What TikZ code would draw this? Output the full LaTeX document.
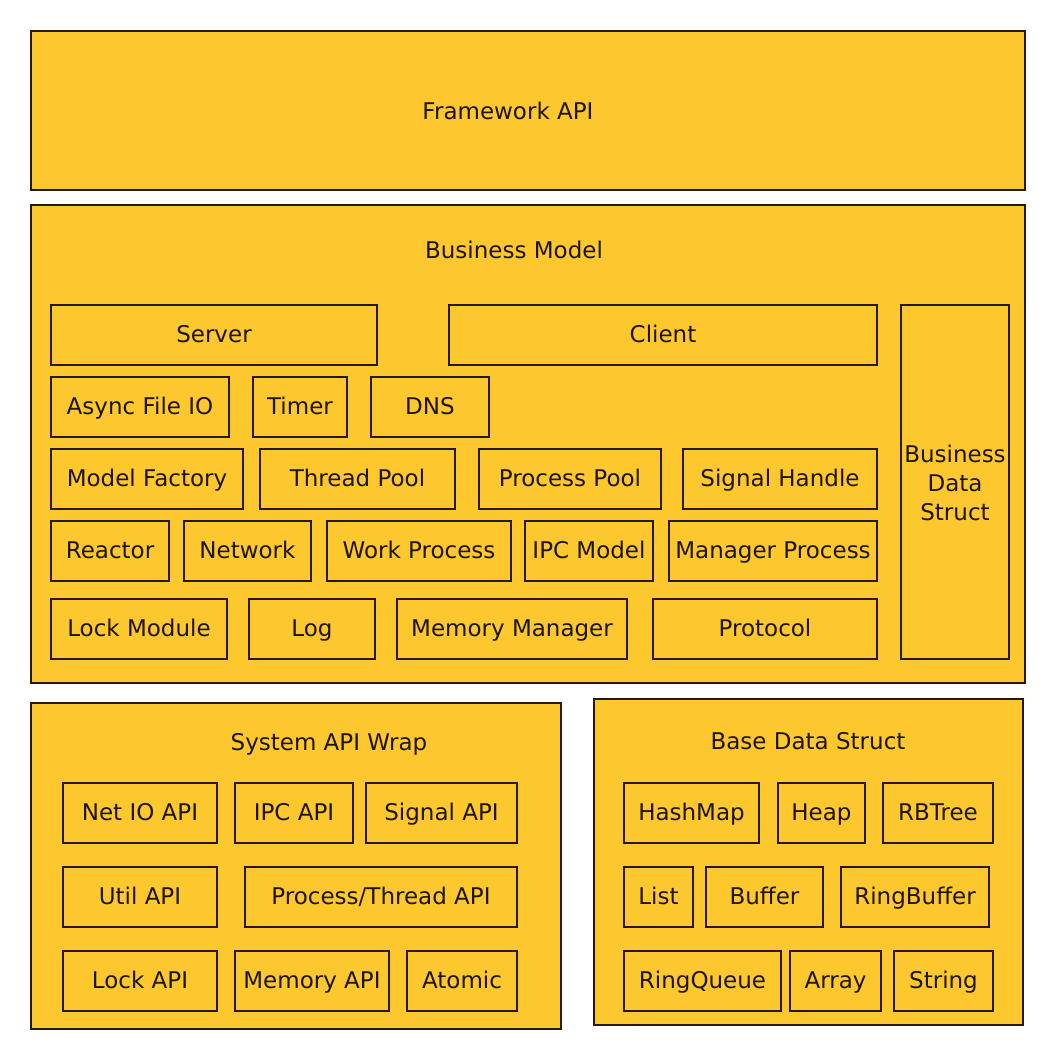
\documentclass[tikz,border=0pt]{standalone}
\usepackage{fontspec}
\setmainfont{DejaVu Sans}
\definecolor{boxfill}{RGB}{252,200,46}
\definecolor{boxline}{RGB}{40,24,12}
\definecolor{txt}{RGB}{30,20,8}
\tikzset{
  blk/.style={draw=boxline, fill=boxfill, line width=2.2pt, inner sep=0pt, outer sep=0pt,
    text=txt, font=\fontsize{23}{29}\selectfont, align=center,
    text height=18pt, text depth=3pt},
  lbl/.style={text=txt, font=\fontsize{23}{29}\selectfont, inner sep=0pt}
}
\newcommand{\bx}[6]{\node[blk, minimum width={#4-#2}, minimum height={#5-#3}, anchor=north west] (#1) at (#2,#3) {#6};}
\begin{document}
\begin{tikzpicture}[x=1pt,y=-1pt]
\useasboundingbox[fill=white] (0,0) rectangle (1056,1060);
% Framework API
\bx{fw}{31}{31}{1025}{190}{}
\node[lbl] (fwl) at (508,111) {Framework API};
% Business Model
\bx{bm}{31}{205}{1025}{683}{}
\node[lbl] (bml) at (514,250) {Business Model};
\bx{server}{51}{305}{377}{365}{Server}
\bx{client}{449}{305}{877}{365}{Client}
\bx{bds}{901}{305}{1009}{659}{}
\node[lbl, align=center] (bdsl) at (955,483) {Business\\Data\\Struct};
\bx{afio}{51}{377}{229}{437}{Async File IO}
\bx{timer}{253}{377}{347}{437}{Timer}
\bx{dns}{371}{377}{489}{437}{DNS}
\bx{mf}{51}{449}{243}{509}{Model Factory}
\bx{tp}{260}{449}{455}{509}{Thread Pool}
\bx{pp}{479}{449}{661}{509}{Process Pool}
\bx{sh}{683}{449}{877}{509}{Signal Handle}
\bx{reactor}{51}{521}{169}{581}{Reactor}
\bx{net}{184}{521}{311}{581}{Network}
\bx{wp}{327}{521}{511}{581}{Work Process}
\bx{ipcm}{525}{521}{653}{581}{IPC Model}
\bx{mp}{669}{521}{877}{581}{Manager Process}
\bx{lm}{51}{599}{227}{659}{Lock Module}
\bx{log}{249}{599}{375}{659}{Log}
\bx{mm}{397}{599}{627}{659}{Memory Manager}
\bx{proto}{653}{599}{877}{659}{Protocol}
% System API Wrap
\bx{saw}{31}{703}{561}{1029}{}
\node[lbl] (sawl) at (329,744) {System API Wrap};
\bx{netio}{63}{783}{217}{843}{Net IO API}
\bx{ipcapi}{235}{783}{353}{843}{IPC API}
\bx{sigapi}{366}{783}{517}{843}{Signal API}
\bx{util}{63}{867}{217}{927}{Util API}
\bx{ptapi}{245}{867}{517}{927}{Process/Thread API}
\bx{lockapi}{63}{951}{217}{1011}{Lock API}
\bx{memapi}{235}{951}{389}{1011}{Memory API}
\bx{atomic}{407}{951}{517}{1011}{Atomic}
% Base Data Struct
\bx{bdst}{594}{699}{1023}{1025}{}
\node[lbl] (bdstl) at (808,741) {Base Data Struct};
\bx{hashmap}{624}{783}{759}{843}{HashMap}
\bx{heap}{778}{783}{865}{843}{Heap}
\bx{rbtree}{883}{783}{993}{843}{RBTree}
\bx{list}{624}{867}{693}{927}{List}
\bx{buffer}{706}{867}{823}{927}{Buffer}
\bx{ringbuf}{841}{867}{989}{927}{RingBuffer}
\bx{ringq}{624}{951}{781}{1011}{RingQueue}
\bx{array}{790}{951}{881}{1011}{Array}
\bx{string}{894}{951}{993}{1011}{String}
\end{tikzpicture}
\end{document}
